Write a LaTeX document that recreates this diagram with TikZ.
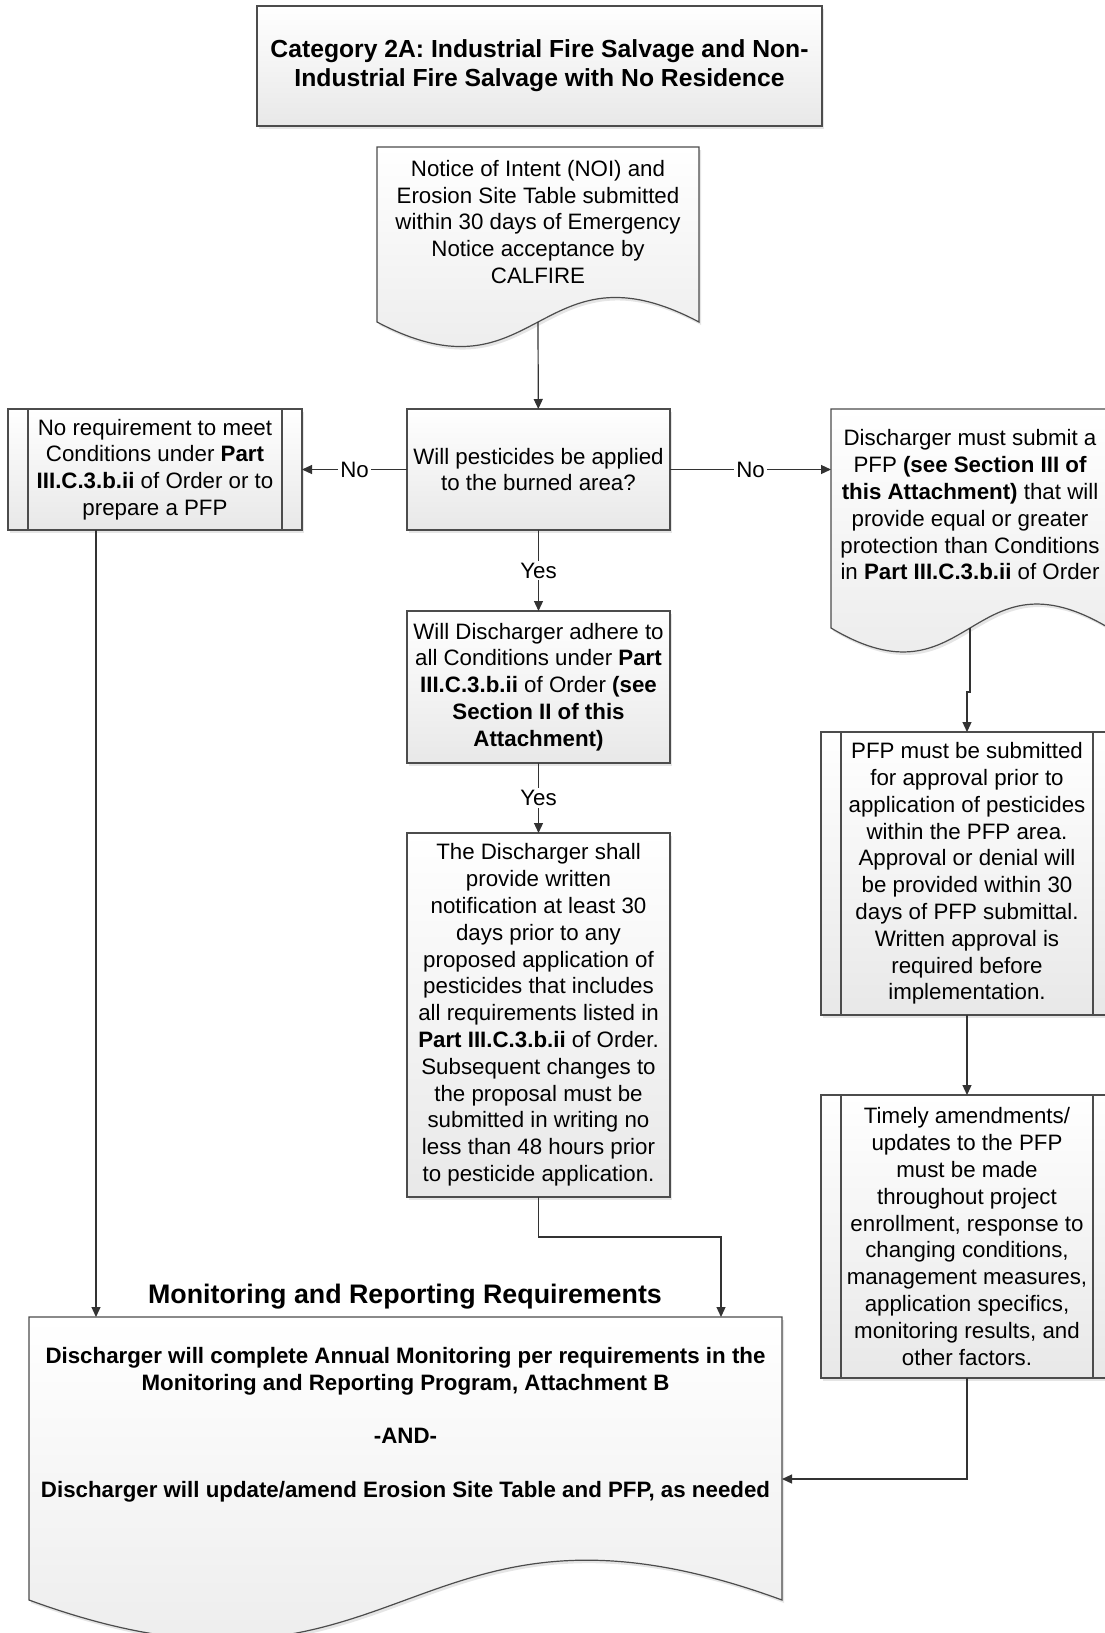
\documentclass[tikz,border=0pt]{standalone}
\usepackage{fontspec}
\setmainfont{Liberation Sans}
\usetikzlibrary{arrows.meta,calc,shadows,backgrounds}

% outline of a document shape round a text node: node, drop below it, wave
\newcommand{\docoutline}[3]{%
  \path[docbox] (#1.north west) -- (#1.north east) -- ($(#1.south east)+(0,#2)$)
    .. controls ($(#1.south)+(0,#2-#3)$) and ($(#1.south)+(0,#2+#3)$) .. ($(#1.south west)+(0,#2)$) -- cycle;}

\begin{document}
\begin{tikzpicture}[x=1pt,y=-1pt,
  every node/.style={font=\fontsize{22.3}{26.8}\selectfont,align=center},
  box/.style={draw=black!70,line width=1.2pt,top color=white,bottom color=black!9,
    drop shadow={shadow xshift=2pt,shadow yshift=-3pt,opacity=0.2},inner sep=0pt,outer sep=0pt},
  predef/.style={box,path picture={
    \draw[black!70,line width=1.2pt]
      ([xshift=20pt]path picture bounding box.north west) -- ([xshift=20pt]path picture bounding box.south west)
      ([xshift=-20pt]path picture bounding box.north east) -- ([xshift=-20pt]path picture bounding box.south east);}},
  doctext/.style={inner sep=0pt,outer sep=0pt},
  docbox/.style={draw=black!70,line width=1.2pt,top color=white,bottom color=black!9,
    drop shadow={shadow xshift=2pt,shadow yshift=-3pt,opacity=0.2}},
  arr/.style={draw=black!80,line width=1.2pt,-{Triangle[length=10pt,width=9pt]}},
  lbl/.style={fill=white,inner sep=2pt}]

\useasboundingbox (0,0) rectangle (1105,1633);

\begin{scope}
\clip (0,0) rectangle (1105,1633);

\node[box,minimum width=565pt,minimum height=120pt,font=\bfseries\fontsize{24.7}{29}\selectfont] (title) at (539.5,66)
  {Category 2A: Industrial Fire Salvage and Non-\\Industrial Fire Salvage with No Residence};

\node[doctext,minimum width=322pt,minimum height=150pt] (noi) at (538,222)
  {Notice of Intent (NOI) and\\Erosion Site Table submitted\\within 30 days of Emergency\\Notice acceptance by\\CALFIRE};

\node[box,minimum width=263pt,minimum height=121pt] (pest) at (538.5,469.5)
  {Will pesticides be applied\\to the burned area?};

\node[predef,minimum width=294pt,minimum height=121pt] (noreq) at (155,469.5)
  {No requirement to meet\\Conditions under \textbf{Part}\\\textbf{III.C.3.b.ii} of Order or to\\prepare a PFP};

\node[doctext,minimum width=278pt,minimum height=192pt] (submit) at (970,505)
  {Discharger must submit a\\PFP \textbf{(see Section III of}\\\textbf{this Attachment)} that will\\provide equal or greater\\protection than Conditions\\in \textbf{Part III.C.3.b.ii} of Order};

\node[box,minimum width=263pt,minimum height=152pt] (adhere) at (538.5,687)
  {Will Discharger adhere to\\all Conditions under \textbf{Part}\\\textbf{III.C.3.b.ii} of Order \textbf{(see}\\\textbf{Section II of this}\\\textbf{Attachment)}};

\node[box,minimum width=263pt,minimum height=364pt] (notify) at (538.5,1015)
  {The Discharger shall\\provide written\\notification at least 30\\days prior to any\\proposed application of\\pesticides that includes\\all requirements listed in\\\textbf{Part III.C.3.b.ii} of Order.\\Subsequent changes to\\the proposal must be\\submitted in writing no\\less than 48 hours prior\\to pesticide application.};

\node[predef,minimum width=292pt,minimum height=283pt] (pfp) at (967,873.5)
  {PFP must be submitted\\for approval prior to\\application of pesticides\\within the PFP area.\\Approval or denial will\\be provided within 30\\days of PFP submittal.\\Written approval is\\required before\\implementation.};

\node[predef,minimum width=292pt,minimum height=283pt] (timely) at (967,1236.5)
  {Timely amendments/\\updates to the PFP\\must be made\\throughout project\\enrollment, response to\\changing conditions,\\management measures,\\application specifics,\\monitoring results, and\\other factors.};

\node[font=\bfseries\fontsize{26.8}{30}\selectfont] (mrphead) at (405,1297) {Monitoring and Reporting Requirements};

\node[doctext,minimum width=753pt,minimum height=216pt,font=\bfseries\fontsize{22.3}{26.5}\selectfont] (mrp) at (405.5,1425)
  {Discharger will complete Annual Monitoring per requirements in the\\Monitoring and Reporting Program, Attachment B\\[27pt]-AND-\\[27pt]Discharger will update/amend Erosion Site Table and PFP, as needed};

\coordinate (mrpL) at (96,1317);
\coordinate (mrpM) at (721,1317);
\coordinate (mrpR) at (782,1479);

% connectors
\draw[arr] ([yshift=-25pt]noi.south) -- (pest);
\draw[arr] (pest.west) -- (noreq.east) node[midway,lbl] {No};
\draw[arr] (pest.east) -- (pest.east -| submit.west) node[midway,lbl] {No};
\draw[arr] (pest) -- (adhere) node[midway,lbl] {Yes};
\draw[arr] (adhere) -- (notify) node[midway,lbl] {Yes};
\draw[arr] ([yshift=-27pt]submit.south) -- ++(0,64) -| (pfp.north);
\draw[arr] (pfp) -- (timely);
\draw[arr] (noreq.south -| mrpL) -- (mrpL);
\draw[arr] (notify.south) -- ++(0,40) -| (mrpM);
\draw[arr] (timely.south) |- (mrpR);
\end{scope}

\begin{scope}[on background layer]
\fill[white] (0,0) rectangle (1105,1633);
\clip (0,0) rectangle (1105,1633);
\docoutline{noi}{25}{85}
\docoutline{submit}{27}{83}
\docoutline{mrp}{67}{138}
\end{scope}

\end{tikzpicture}
\end{document}
